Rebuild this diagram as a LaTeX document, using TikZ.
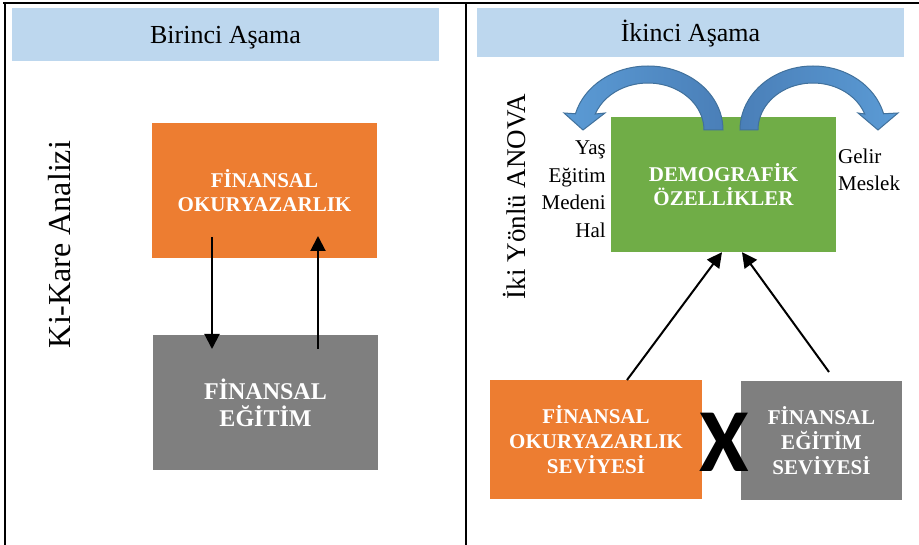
\documentclass[tikz,border=0pt]{standalone}
\usepackage{fontspec}
\setmainfont{Liberation Serif}
\newfontfamily\xfont{Carlito}
\usetikzlibrary{arrows.meta,calc}
\definecolor{hdr}{HTML}{BDD7EE}
\definecolor{orng}{HTML}{ED7D31}
\definecolor{gry}{HTML}{7F7F7F}
\definecolor{grn}{HTML}{70AD47}
\definecolor{bluel}{HTML}{5B9BD5}
\definecolor{bluem}{HTML}{4A7FB8}
\definecolor{blued}{HTML}{41719C}
\begin{document}
\begin{tikzpicture}[x=1pt,y=-1pt,
  hdrbox/.style={fill=hdr, inner sep=0pt, minimum width=427pt, text height=20pt, text depth=2.5pt, font=\fontsize{26}{30}\selectfont},
  colbox/.style={inner sep=0pt, text=white, align=center, font=\bfseries\fontsize{21}{24}\selectfont},
  lbl/.style={inner sep=0pt, font=\fontsize{21}{27.5}\selectfont},
  vlbl/.style={inner sep=0pt, rotate=90, anchor=base},
  arr/.style={line width=2pt, -{Triangle[width=15pt,length=15pt]}},
  curv/.style={draw=blued, line width=1pt},
  frame/.style={line width=2.3pt}]
\useasboundingbox (0,0) rectangle (919,545);
% frame
\draw[frame] (3,3) -- (919,3);
\draw[frame] (5,2) -- (5,545);
\draw[frame] (466,3) -- (466,545);
% headers
\node[hdrbox, minimum height=53pt] (hdrL) at (225.5,34.5) {Birinci Aşama};
\node[hdrbox, minimum height=49pt] (hdrR) at (690.5,32.5) {İkinci Aşama};
% left panel
\node[vlbl, font=\fontsize{32}{36}\selectfont] (kk) at (70,244.5) {Ki-Kare Analizi};
\node[colbox, fill=orng, minimum width=225pt, minimum height=135pt] (ok1) at (264.5,190.5) {FİNANSAL\\OKURYAZARLIK};
\node[colbox, fill=gry, minimum width=225pt, minimum height=135pt, font=\bfseries\fontsize{24}{27}\selectfont] (eg1) at (265.5,402.5) {FİNANSAL\\EĞİTİM};
\coordinate (d1) at (212,237);
\coordinate (d2) at (212,349);
\coordinate (u1) at (318,349);
\coordinate (u2) at (318,236);
\draw[arr] (d1) -- (d2);
\draw[arr] (u1) -- (u2);
% right panel
\node[vlbl, font=\fontsize{27}{31}\selectfont] (anova) at (525,196.5) {İki Yönlü ANOVA};
\node[colbox, fill=grn, minimum width=225pt, minimum height=135pt] (dem) at (723.5,184.5) {DEMOGRAFİK\\ÖZELLİKLER};
\node[colbox, fill=orng, minimum width=212pt, minimum height=119pt, font=\bfseries\fontsize{21}{25}\selectfont] (ok2) at (596,439.5) {FİNANSAL\\OKURYAZARLIK\\SEVİYESİ};
\node[colbox, fill=gry, minimum width=161pt, minimum height=119pt, font=\bfseries\fontsize{21}{25}\selectfont] (eg2) at (821.5,440.5) {FİNANSAL\\EĞİTİM\\SEVİYESİ};
\node[inner sep=0pt, font=\xfont\bfseries\fontsize{90}{90}\selectfont] (cross) at (724,442) {X};
\node[lbl, align=right, anchor=north east] (lblL) at (606,141) {Yaş\\Eğitim\\Medeni\\Hal};
\node[lbl, align=left, anchor=north west, font=\fontsize{21}{27}\selectfont] (lblR) at (838,148.5) {Gelir\\Meslek};
% curved arrows
\path[curv, left color=bluel, right color=bluem]
  (723,130) arc[start angle=0, end angle=-165.3, x radius=75, y radius=64]
  -- (564,113) -- (583,130) -- (605,113) -- (595.3,114)
  arc[start angle=-160.1, end angle=0, x radius=56, y radius=47] -- cycle;
\path[curv, left color=bluem, right color=bluel]
  (740,130) arc[start angle=-180, end angle=-14.7, x radius=73, y radius=64]
  -- (898,113) -- (878,130) -- (858,113) -- (864.7,114)
  arc[start angle=-19.9, end angle=-180, x radius=55, y radius=47] -- cycle;
% connectors to demographic box
\coordinate (a1) at (627,380);
\coordinate (a2) at (829,372);
\draw[arr] (a1) -- ($(dem.south)+(-1.5,0)$);
\draw[arr] (a2) -- ($(dem.south)+(18.5,0)$);
\end{tikzpicture}
\end{document}
